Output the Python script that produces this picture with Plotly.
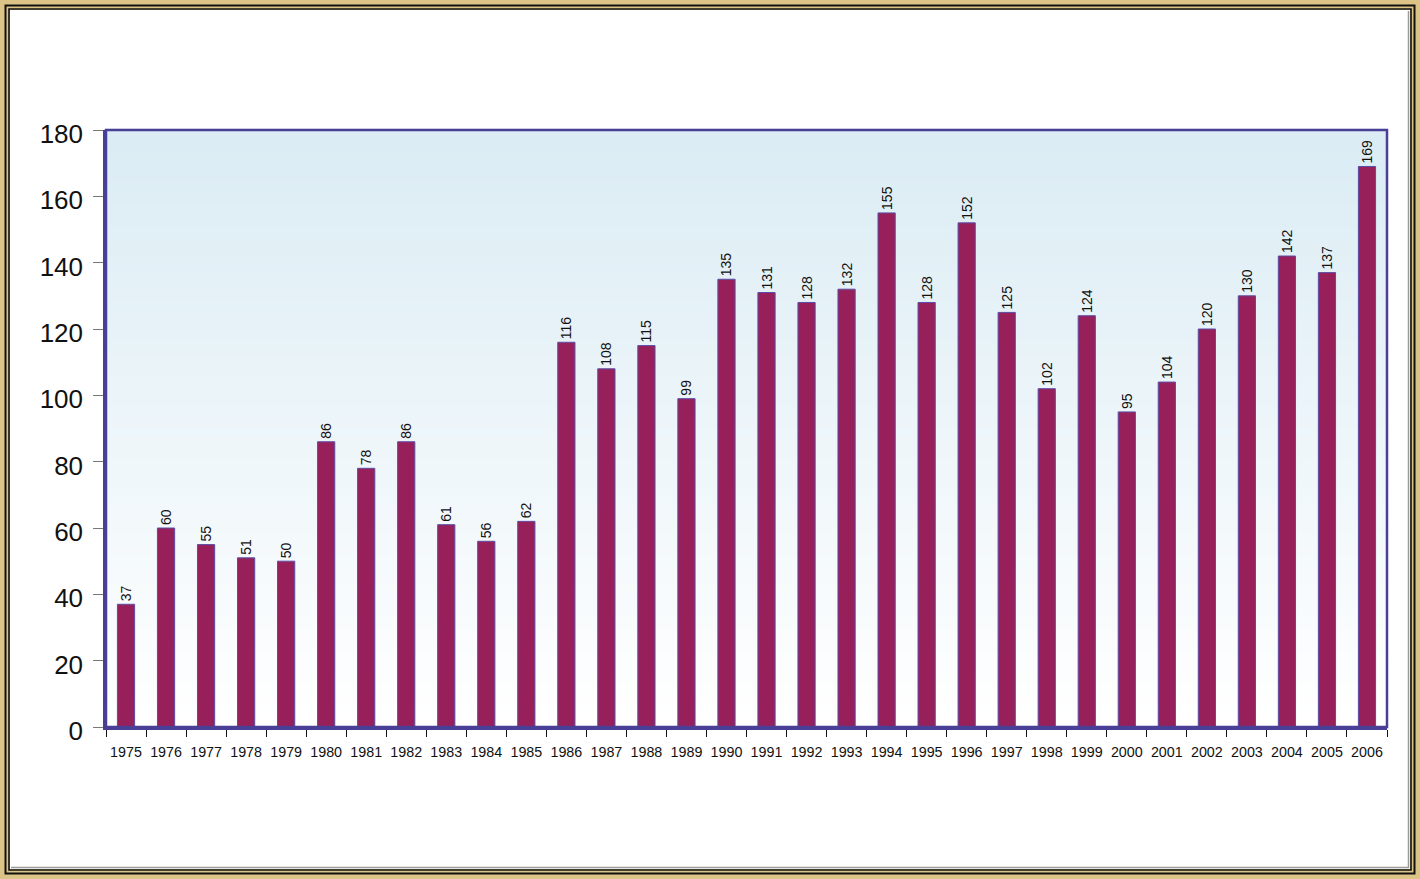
import plotly.graph_objects as go

years = [str(y) for y in range(1975, 2007)]
counts = [37, 60, 55, 51, 50, 86, 78, 86, 61, 56, 62, 116, 108, 115, 99,
          135, 131, 128, 132, 155, 128, 152, 125, 102, 124, 95, 104, 120,
          130, 142, 137, 169]
y_ticks = [0, 20, 40, 60, 80, 100, 120, 140, 160, 180]

W, H = 1420, 879
L, R, T, B = 106, 33, 130, 152
PW, PH = W - L - R, H - T - B


def px(x):
    return (x - L) / PW


def py(y):
    return (H - B - y) / PH


shapes = []

# white card inside the tan frame
shapes.append(dict(type="rect", xref="paper", yref="paper", layer="below",
                   x0=px(10), x1=px(1410), y0=py(10), y1=py(869),
                   fillcolor="white", line=dict(width=0)))

# soft blue-to-white gradient behind the bars
n = 80
top = (219, 236, 244)
for i in range(n):
    f = i / (n - 1)
    c = tuple(round(255 + (top[k] - 255) * f) for k in range(3))
    shapes.append(dict(type="rect", xref="paper", yref="paper", layer="below",
                       x0=0, x1=1, y0=i / n, y1=(i + 1) / n + 0.002,
                       fillcolor="rgb(%d,%d,%d)" % c, line=dict(width=0)))

# plot-area outline
shapes.append(dict(type="rect", xref="paper", yref="paper",
                   x0=0, x1=1, y0=0, y1=1,
                   line=dict(color="#4a3f96", width=2.5)))

# frame lines
shapes.append(dict(type="rect", xref="paper", yref="paper",
                   x0=px(5.5), x1=px(1414.5), y0=py(5.5), y1=py(873.5),
                   line=dict(color="#111111", width=2)))
shapes.append(dict(type="rect", xref="paper", yref="paper",
                   x0=px(9), x1=px(1411), y0=py(9), y1=py(870),
                   line=dict(color="#111111", width=1.6)))
# shadow along bottom/right of the card
shapes.append(dict(type="path", xref="paper", yref="paper",
                   path="M %f,%f L %f,%f L %f,%f" % (px(11), py(867.5), px(1408.5), py(867.5), px(1408.5), py(11)),
                   line=dict(color="#9a9a9a", width=1.5)))

fig = go.Figure(go.Bar(
    x=years, y=counts,
    marker=dict(color="#97205a", line=dict(color="#5b4ca6", width=1)),
    width=0.43,
    text=[str(v) for v in counts],
    textposition="outside",
    textangle=-90,
    constraintext="none",
    textfont=dict(size=14, color="#111111", family="Arial, Liberation Sans, sans-serif"),
    cliponaxis=False,
))

fig.update_layout(
    width=W, height=H,
    margin=dict(l=L, r=R, t=T, b=B, pad=0),
    paper_bgcolor="#dcc487",
    plot_bgcolor="rgba(0,0,0,0)",
    font=dict(family="Arial, Liberation Sans, sans-serif", color="#111111"),
    showlegend=False,
    shapes=shapes,
    bargap=0.57,
)
fig.update_xaxes(
    type="category", range=[-0.5, len(years) - 0.5],
    showgrid=False, zeroline=False,
    showline=True, linecolor="#4a3f96", linewidth=2.5,
    ticks="outside", ticklen=7, tickcolor="#111111", tickson="boundaries",
    tickangle=0, tickfont=dict(size=14.3), ticklabelstandoff=10,
)
fig.update_yaxes(
    range=[0, 180], tickvals=y_ticks,
    showgrid=False, zeroline=False,
    showline=True, linecolor="#4a3f96", linewidth=2.5,
    ticks="outside", ticklen=10, tickcolor="#777777",
    tickfont=dict(size=26), ticklabelstandoff=5, ticklabelshift=4,
)

fig.write_html("out.html")
